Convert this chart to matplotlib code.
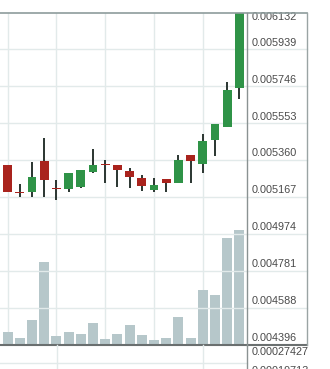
import matplotlib
matplotlib.use("Agg")
import matplotlib.pyplot as plt
from matplotlib.transforms import offset_copy

# ---- data ----
opens  = [0.005335, 0.005194, 0.005195, 0.005356, 0.005212, 0.005209, 0.005221, 0.005300,
          0.005339, 0.005335, 0.005304, 0.005265, 0.005204, 0.005262, 0.005239, 0.005387,
          0.005339, 0.005466, 0.005535, 0.005736]
closes = [0.005195, 0.005188, 0.005274, 0.005256, 0.005207, 0.005291, 0.005309, 0.005335,
          0.005335, 0.005309, 0.005274, 0.005227, 0.005230, 0.005242, 0.005361, 0.005357,
          0.005460, 0.005549, 0.005727, 0.006140]
highs  = [0.005335, 0.005235, 0.005350, 0.005478, 0.005256, 0.005291, 0.005309, 0.005419,
          0.005361, 0.005335, 0.005321, 0.005283, 0.005265, 0.005262, 0.005387, 0.005387,
          0.005495, 0.005549, 0.005771, 0.006140]
lows   = [0.005191, 0.005168, 0.005168, 0.005168, 0.005152, 0.005195, 0.005215, 0.005293,
          0.005241, 0.005221, 0.005215, 0.005200, 0.005195, 0.005195, 0.005239, 0.005242,
          0.005291, 0.005382, 0.005533, 0.005680]
volumes = [12.3, 6.3, 24, 82, 8, 12.3, 10, 21, 5, 10, 19, 9, 4, 6, 27, 6, 54, 49, 106, 114]

price_ticks = [0.004396, 0.004588, 0.004781, 0.004974, 0.005167, 0.005360,
               0.005553, 0.005746, 0.005939]
top_label = 0.006132
lower_labels = ["0.00027427", "0.00019713"]

GREEN = "#2f9347"
RED = "#a9231d"
WICK = "#2a3530"
VOLC = "#b6c7ca"
GRID = "#e2eaea"

W, H = 330, 369
fig = plt.figure(figsize=(W / 100, H / 100), dpi=100)
fig.patch.set_facecolor("white")

ax_l, ax_r = 0, 247
ax_t, ax_b = 12.5, 344.5
rect = [ax_l / W, (H - ax_b) / H, (ax_r - ax_l) / W, (ax_b - ax_t) / H]

# volume axis (behind)
axv = fig.add_axes(rect)
axv.set_xlim(-0.63, 19.62)
axv.set_ylim(0, max(volumes) * (ax_b - ax_t) / 114.5)
axv.bar(range(len(volumes)), volumes, width=0.82, color=VOLC, zorder=2)
axv.axis("off")
for gx in [0, 4, 8, 12, 16]:
    axv.axvline(gx, color=GRID, lw=1, zorder=1)

ax = fig.add_axes(rect)
ax.patch.set_alpha(0)
ax.set_xlim(-0.63, 19.62)
ax.set_ylim(price_ticks[0], top_label)
for s in ax.spines.values():
    s.set_visible(False)
ax.set_xticks([])
ax.set_yticks([])

ytr = ax.get_yaxis_transform()
xr = 307 / 247
for v in price_ticks[1:]:
    ax.plot([0, xr], [v, v], color=GRID, lw=1, transform=ytr, clip_on=False, zorder=0)

# frame lines
ax.plot([0, xr], [top_label, top_label], color="#8d9c9c", lw=1.2, transform=ytr, clip_on=False, zorder=6)
ax.plot([0, xr], [price_ticks[0], price_ticks[0]], color="#6a6f6f", lw=1.5, transform=ytr, clip_on=False, zorder=6)
ax.plot([1, 1], [0, 1], color="#8a9292", lw=1.0, transform=ax.transAxes, clip_on=False, zorder=6)
ax.plot([xr, xr], [0, 1], color="#9aa4a4", lw=1.0, transform=ax.transAxes, clip_on=False, zorder=6)

# candles
bw = 0.72
for i, (o, c, h, l) in enumerate(zip(opens, closes, highs, lows)):
    col = GREEN if c >= o else RED
    ax.plot([i, i], [l, h], color=WICK, lw=1.4, zorder=3, solid_capstyle="butt")
    lo, hi = min(o, c), max(o, c)
    hgt = max(hi - lo, 0.0000035)
    ax.bar(i, hgt, bottom=lo, width=bw, color=col, zorder=4)

# labels
lab_x = 252 / 247
tkw = dict(fontsize=7.8, color="#4a4a4a", family=["Liberation Sans", "DejaVu Sans"], ha="left")
up = offset_copy(ytr, fig=fig, x=0, y=4.8, units="points")
for v in price_ticks:
    ax.text(lab_x, v, f"{v:.6f}", transform=up, va="center", clip_on=False, **tkw)
dn = offset_copy(ytr, fig=fig, x=0, y=-3.3, units="points")
ax.text(lab_x, top_label, f"{top_label:.6f}", transform=dn, va="center", clip_on=False, **tkw)

# lower panel remnants
fig.text(252 / W, 1 - 352 / H, lower_labels[0], va="center", **tkw)
fig.text(252 / W, 1 - 370.5 / H, lower_labels[1], va="center", **tkw)
fig.add_artist(plt.Line2D([0, 247 / W], [1 - 363 / H, 1 - 363 / H], color=GRID, lw=1))
fig.add_artist(plt.Line2D([247 / W, 247 / W], [1 - 369 / H, 1 - 344.5 / H], color="#8a9292", lw=1))
fig.add_artist(plt.Line2D([57 / W, 57 / W], [1 - 369 / H, 1 - 344.5 / H], color=GRID, lw=1))
fig.add_artist(plt.Line2D([203 / W, 203 / W], [1 - 369 / H, 1 - 344.5 / H], color=GRID, lw=1))

fig.savefig("out.png", dpi=100)
